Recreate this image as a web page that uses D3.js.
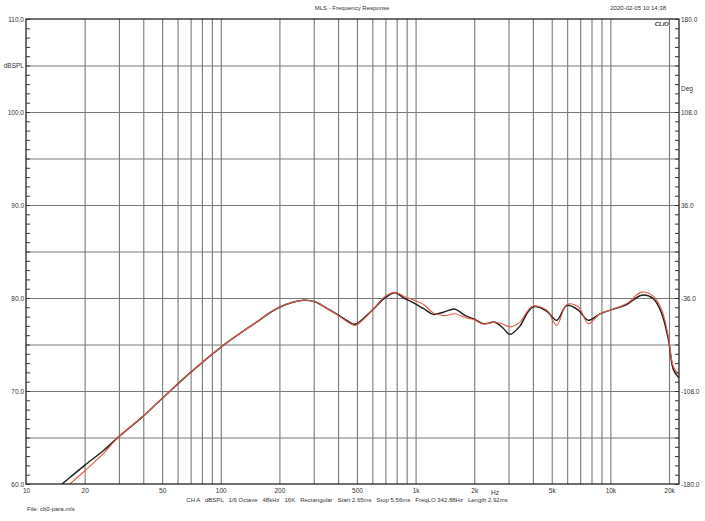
<!DOCTYPE html>
<html>
<head>
<meta charset="utf-8">
<script src="https://cdn.jsdelivr.net/npm/d3@7"></script>
<style>
  body { margin: 0; background: #fff; }
  svg { display: block; font-family: 'Liberation Sans', Arial, sans-serif; }
  text { fill: #333; }
</style>
</head>
<body>
<div id="chart"></div>
<script>
// measured frequencies (Hz) shared by both traces
const freqs = [15.3, 16.8, 20, 25, 30, 40, 50, 70, 100, 150, 200, 265, 304, 350, 409, 450, 488, 540, 607, 700, 784, 870, 973, 1100, 1233, 1400, 1593, 1800, 1978, 2228, 2556, 2800, 3052, 3436, 3750, 4020, 4706, 5300, 5970, 6845, 7707, 8850, 10350, 12130, 14475, 16600, 18300, 19830, 21070, 22500];
const blackDb = [60.0, 60.7, 62.0, 63.6, 65.1, 67.3, 69.2, 72.0, 74.7, 77.3, 79.0, 79.75, 79.6, 78.9, 78.06, 77.5, 77.17, 77.8, 78.8, 80.06, 80.57, 80.0, 79.5, 78.85, 78.24, 78.5, 78.8, 78.1, 77.78, 77.24, 77.4, 76.8, 76.1, 77.0, 78.4, 79.07, 78.6, 77.6, 79.2, 78.7, 77.6, 78.3, 78.8, 79.3, 80.3, 79.93, 78.4, 75.6, 72.3, 71.4];
const redDb = [59.3, 60.0, 61.4, 63.3, 65.1, 67.3, 69.2, 72.0, 74.7, 77.3, 79.0, 79.75, 79.6, 78.9, 78.0, 77.4, 77.05, 77.7, 78.8, 80.2, 80.6, 80.2, 79.8, 79.3, 78.4, 78.1, 78.3, 77.9, 77.7, 77.2, 77.4, 77.2, 76.9, 77.4, 78.6, 79.14, 78.7, 77.06, 79.28, 79.06, 77.24, 78.3, 78.8, 79.4, 80.63, 80.2, 78.8, 75.9, 72.6, 71.8];

const xGridFreqs = [20, 30, 40, 50, 60, 70, 80, 90, 100, 200, 300, 400, 500, 600, 700, 800, 900, 1000, 2000, 3000, 4000, 5000, 6000, 7000, 8000, 9000, 10000, 20000];
const xLabelFreqs = [10, 20, 50, 100, 200, 500, 1000, 2000, 5000, 10000, 20000];
const dbLabels = [110, 105, 100, 90, 80, 70, 60];
const degLabels = [180, 126, 108, 36, -36, -108, -180];
const infoItems = ['CH A', 'dBSPL', '1/6 Octave', '48kHz', '16K', 'Rectangular', 'Start 2.65ms', 'Stop 5.56ms', 'FreqLO 342.88Hz', 'Length 2.92ms'];
const title = 'MLS - Frequency Response';
const stamp = '2020-02-05 10:14:38';
const fileName = 'File: cb0-para.mls';

const W = 705, H = 521;
const pL = 26, pR = 679, pT = 19, pB = 484;

const svg = d3.select('#chart').append('svg').attr('width', W).attr('height', H);

const x = d3.scaleLog().domain([10, 20000]).range([pL, 669]);
const y = d3.scaleLinear().domain([60, 110]).range([pB, pT]);
const yDeg = d3.scaleLinear().domain([-180, 180]).range([pB, pT]);

// horizontal grid every 5 dB
const gy = svg.append('g').attr('transform', `translate(${pL},0)`)
  .call(d3.axisRight(y).tickValues(d3.range(65, 110, 5)).tickSize(pR - pL).tickFormat(''));
gy.select('.domain').remove();
gy.selectAll('.tick line').attr('stroke', '#7a7a7a').attr('stroke-width', 1.1);

// vertical grid
const gx = svg.append('g').attr('transform', `translate(0,${pB})`)
  .call(d3.axisTop(x).tickValues(xGridFreqs).tickSize(pB - pT).tickFormat(''));
gx.select('.domain').remove();
gx.selectAll('.tick line').attr('stroke', '#7a7a7a').attr('stroke-width', 1.1);

// traces
svg.append('clipPath').attr('id', 'plot-clip').append('rect')
  .attr('x', pL).attr('y', pT).attr('width', pR - pL).attr('height', pB - pT);

const line = (vals) => d3.line()
  .x((d, i) => x(freqs[i]))
  .y((d) => y(d))
  .curve(d3.curveCatmullRom.alpha(0.5))(vals);

const traces = svg.append('g').attr('clip-path', 'url(#plot-clip)');
traces.append('path').attr('d', line(blackDb)).attr('fill', 'none').attr('stroke', '#222').attr('stroke-width', 1.5);
traces.append('path').attr('d', line(redDb)).attr('fill', 'none').attr('stroke', '#e25a48').attr('stroke-width', 1.1);

// frame
svg.append('rect').attr('x', pL).attr('y', pT).attr('width', pR - pL).attr('height', pB - pT)
  .attr('fill', 'none').attr('stroke', '#111').attr('stroke-width', 1.2);

// minor ticks every 1 dB on both sides
const tl = svg.append('g').attr('transform', `translate(${pL},0)`)
  .call(d3.axisRight(y).tickValues(d3.range(60, 111)).tickSize(4).tickFormat(''));
tl.select('.domain').remove();
tl.selectAll('.tick line').attr('stroke', '#333');
const tr = svg.append('g').attr('transform', `translate(${pR},0)`)
  .call(d3.axisLeft(y).tickValues(d3.range(60, 111)).tickSize(4).tickFormat(''));
tr.select('.domain').remove();
tr.selectAll('.tick line').attr('stroke', '#333');

// left labels
const ll = svg.append('g').attr('transform', `translate(${pL - 1},0)`)
  .call(d3.axisLeft(y).tickValues(dbLabels).tickSize(0).tickPadding(1)
    .tickFormat((d) => (d === 105 ? 'dBSPL' : d.toFixed(1))));
ll.select('.domain').remove();
ll.selectAll('text').style('font-size', '6.5px').attr('fill', '#555');

// right labels
const rl = svg.append('g').attr('transform', `translate(${pR + 1},0)`)
  .call(d3.axisRight(yDeg).tickValues(degLabels).tickSize(0).tickPadding(1)
    .tickFormat((d) => (d === 126 ? 'Deg' : d.toFixed(1))));
rl.select('.domain').remove();
rl.selectAll('text').style('font-size', '6.5px').attr('fill', '#555');

// bottom labels
const bl = svg.append('g').attr('transform', `translate(0,${pB})`)
  .call(d3.axisBottom(x).tickValues(xLabelFreqs).tickSize(0).tickPadding(4)
    .tickFormat((d) => (d >= 1000 ? d / 1000 + 'k' : d)));
bl.select('.domain').remove();
bl.selectAll('text').style('font-size', '6.5px').attr('fill', '#555');

svg.append('text').attr('x', 495).attr('y', pB + 10.5).attr('text-anchor', 'middle')
  .style('font-size', '6.5px').attr('fill', '#555').text('Hz');

// header
svg.append('text').attr('x', 352).attr('y', 10).attr('text-anchor', 'middle')
  .style('font-size', '6px').attr('fill', '#555').text(title);
svg.append('text').attr('x', 666).attr('y', 10).attr('text-anchor', 'end')
  .style('font-size', '6px').attr('fill', '#555').text(stamp);
svg.append('text').attr('x', 669).attr('y', 26).attr('text-anchor', 'end')
  .style('font-size', '6px').style('font-weight', 'bold').style('font-style', 'italic')
  .attr('fill', '#111').text('CLIO');

// info line
svg.append('text').attr('x', 347).attr('y', 502).attr('text-anchor', 'middle')
  .style('font-size', '6px').style('white-space', 'pre').attr('fill', '#555')
  .text(infoItems.join('   '));
svg.append('text').attr('x', 27).attr('y', 511)
  .style('font-size', '6px').attr('fill', '#555').text(fileName);
</script>
</body>
</html>
